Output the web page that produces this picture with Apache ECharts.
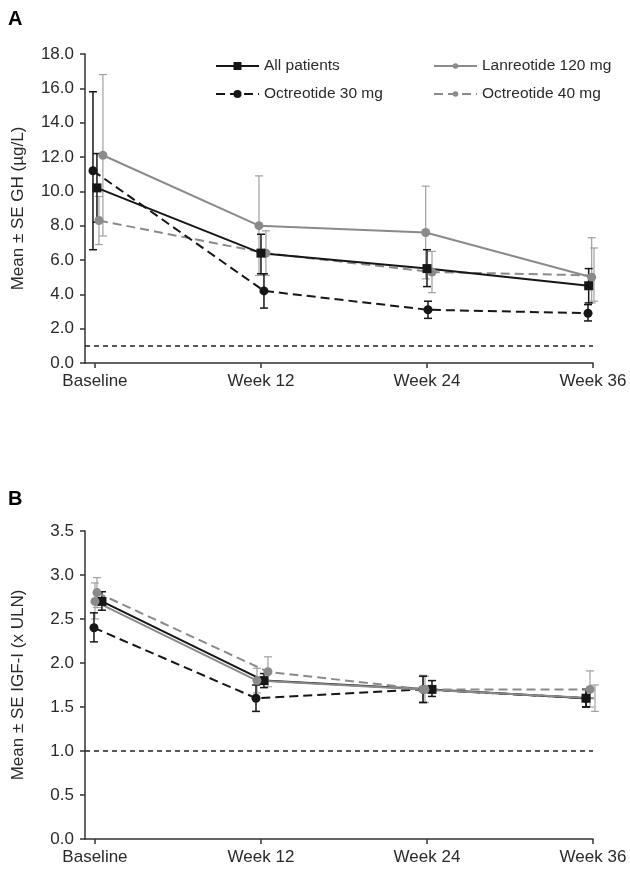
<!DOCTYPE html>
<html><head><meta charset="utf-8">
<script src="https://cdn.jsdelivr.net/npm/echarts@6/dist/echarts.min.js"></script>
<style>html,body{margin:0;padding:0;background:#fff}#c{width:630px;height:870px}</style>
</head><body><div id="c"></div>
<script>
const timepoints = ['Baseline', 'Week 12', 'Week 24', 'Week 36'];
const names = ['All patients', 'Lanreotide 120 mg', 'Octreotide 30 mg', 'Octreotide 40 mg'];

// Panel A: GH (µg/L) mean, lower SE, upper SE
const ghAll = [10.2, 6.4, 5.5, 4.5];
const ghAllLo = [8.2, 5.2, 4.45, 3.5];
const ghAllHi = [12.2, 7.5, 6.6, 5.5];
const ghLan = [12.1, 8.0, 7.6, 5.0];
const ghLanLo = [7.4, 5.1, 4.9, 3.5];
const ghLanHi = [16.8, 10.9, 10.3, 7.3];
const ghOct30 = [11.2, 4.2, 3.1, 2.9];
const ghOct30Lo = [6.6, 3.2, 2.6, 2.45];
const ghOct30Hi = [15.8, 5.2, 3.6, 3.4];
const ghOct40 = [8.3, 6.4, 5.3, 5.1];
const ghOct40Lo = [6.9, 5.1, 4.1, 3.6];
const ghOct40Hi = [9.7, 7.7, 6.5, 6.7];
const ghRef = 1.0;

// Panel B: IGF-I (x ULN)
const igfAll = [2.7, 1.8, 1.7, 1.6];
const igfAllLo = [2.6, 1.72, 1.62, 1.5];
const igfAllHi = [2.81, 1.88, 1.8, 1.7];
const igfLan = [2.7, 1.8, 1.7, 1.6];
const igfLanLo = [2.5, 1.66, 1.56, 1.45];
const igfLanHi = [2.91, 1.94, 1.86, 1.75];
const igfOct30 = [2.4, 1.6, 1.7, 1.6];
const igfOct30Lo = [2.24, 1.45, 1.55, 1.5];
const igfOct30Hi = [2.57, 1.75, 1.85, 1.7];
const igfOct40 = [2.8, 1.9, 1.7, 1.7];
const igfOct40Lo = [2.63, 1.73, 1.55, 1.5];
const igfOct40Hi = [2.97, 2.07, 1.85, 1.91];
const igfRef = 1.0;

// small horizontal dodge of each group around its timepoint (in timepoint units)
const dodgeA = {all: [0.012, 0, 0, -0.026], lan: [0.048, -0.012, -0.008, -0.008], oct30: [-0.012, 0.018, 0.006, -0.03], oct40: [0.024, 0.03, 0.03, 0.006]};
const dodgeB = {all: [0.042, 0.018, 0.03, -0.042], lan: [0, -0.024, -0.024, 0.012], oct30: [-0.006, -0.03, -0.024, -0.042], oct40: [0.012, 0.042, -0.012, -0.018]};

const BLACK = '#161616', GREY = '#8a8a8a', GREY_ERR = '#a0a0a0';
const styles = {
  all: {name: names[0], color: BLACK, type: 'solid', symbol: 'rect', size: 9, err: BLACK, errW: 1.5},
  lan: {name: names[1], color: GREY, type: 'solid', symbol: 'circle', size: 9, err: GREY_ERR, errW: 1.2},
  oct30: {name: names[2], color: BLACK, type: [9, 5], symbol: 'circle', size: 9, err: BLACK, errW: 1.5},
  oct40: {name: names[3], color: GREY, type: [9, 5], symbol: 'circle', size: 9, err: GREY_ERR, errW: 1.2}
};

function lineS(key, g, vals, dodge) {
  const s = styles[key];
  return {
    type: 'line', name: s.name, xAxisIndex: g, yAxisIndex: g,
    data: vals.map((v, i) => [i + dodge[i], v]),
    symbol: s.symbol, symbolSize: s.size, showSymbol: true,
    lineStyle: {color: s.color, width: 2, type: s.type},
    itemStyle: {color: s.color},
    z: 3, animation: false
  };
}
function errS(key, g, lo, hi, dodge) {
  const s = styles[key];
  return {
    type: 'custom', name: s.name + ' SE', xAxisIndex: g, yAxisIndex: g,
    data: lo.map((l, i) => [i + dodge[i], l, hi[i]]),
    encode: {x: 0, y: [1, 2]},
    z: 2, animation: false, silent: true,
    renderItem: function (params, api) {
      const x = api.value(0);
      const p1 = api.coord([x, api.value(1)]);
      const p2 = api.coord([x, api.value(2)]);
      const w = 4;
      const st = {stroke: s.err, lineWidth: s.errW};
      return {type: 'group', children: [
        {type: 'line', shape: {x1: p1[0], y1: p1[1], x2: p2[0], y2: p2[1]}, style: st},
        {type: 'line', shape: {x1: p1[0] - w, y1: p1[1], x2: p1[0] + w, y2: p1[1]}, style: st},
        {type: 'line', shape: {x1: p2[0] - w, y1: p2[1], x2: p2[0] + w, y2: p2[1]}, style: st}
      ]};
    }
  };
}
function refS(g, v) {
  return {
    type: 'line', name: 'ref' + g, xAxisIndex: g, yAxisIndex: g, data: [], silent: true, animation: false,
    markLine: {silent: true, symbol: 'none', label: {show: false}, animation: false,
      lineStyle: {color: '#222', width: 1.5, type: [5, 4]},
      data: [{yAxis: v}]}
  };
}

const TXT = '#2a2a2a';
const FONT = 'Liberation Sans, Arial, sans-serif';
function xAx(g) {
  return {
    gridIndex: g, type: 'value', min: -0.06, max: 3,
    axisLine: {show: true, onZero: false, lineStyle: {color: '#333', width: 1.5}},
    axisTick: {show: true, customValues: [0, 1, 2, 3], length: 5, lineStyle: {color: '#333', width: 1.5}},
    axisLabel: {customValues: [0, 1, 2, 3], formatter: v => timepoints[Math.round(v)], fontSize: 17, color: TXT, fontFamily: FONT, margin: 10},
    splitLine: {show: false}
  };
}
function yAx(g, max, interval, title) {
  return {
    gridIndex: g, type: 'value', min: 0, max: max, interval: interval,
    name: title, nameLocation: 'middle', nameGap: 58,
    nameTextStyle: {fontSize: 17, color: TXT, fontFamily: FONT},
    axisLine: {show: true, onZero: false, lineStyle: {color: '#333', width: 1.5}},
    axisTick: {show: true, length: 5, lineStyle: {color: '#333', width: 1.5}},
    axisLabel: {formatter: v => v.toFixed(1), fontSize: 17, color: TXT, fontFamily: FONT, margin: 11},
    splitLine: {show: false}
  };
}

const chart = echarts.init(document.getElementById('c'), null, {renderer: 'canvas'});
chart.setOption({
  backgroundColor: '#fff',
  animation: false,
  textStyle: {fontFamily: FONT},
  title: [
    {text: 'A', left: 3, top: 4, textStyle: {fontSize: 20, fontWeight: 'bold', color: '#000', fontFamily: FONT}},
    {text: 'B', left: 3, top: 484, textStyle: {fontSize: 20, fontWeight: 'bold', color: '#000', fontFamily: FONT}}
  ],
  legend: [
    {data: [names[0], names[2]], orient: 'vertical', left: 215, top: 58, padding: 0,
      itemWidth: 43, itemHeight: 10, itemGap: 12, selectedMode: false,
      textStyle: {fontSize: 15.5, color: TXT, fontFamily: FONT, lineHeight: 12}},
    {data: [names[1], names[3]], orient: 'vertical', left: 433, top: 58, padding: 0,
      itemWidth: 43, itemHeight: 7, itemGap: 12, selectedMode: false,
      textStyle: {fontSize: 15.5, color: TXT, fontFamily: FONT, lineHeight: 12}}
  ],
  grid: [
    {left: 85, right: 37, top: 54, height: 309},
    {left: 85, right: 37, top: 531, height: 308}
  ],
  xAxis: [xAx(0), xAx(1)],
  yAxis: [yAx(0, 18, 2, 'Mean \u00b1 SE GH (\u00b5g/L)'), yAx(1, 3.5, 0.5, 'Mean \u00b1 SE IGF-I (x ULN)')],
  series: [
    refS(0, ghRef),
    errS('lan', 0, ghLanLo, ghLanHi, dodgeA.lan),
    errS('oct40', 0, ghOct40Lo, ghOct40Hi, dodgeA.oct40),
    errS('oct30', 0, ghOct30Lo, ghOct30Hi, dodgeA.oct30),
    errS('all', 0, ghAllLo, ghAllHi, dodgeA.all),
    lineS('lan', 0, ghLan, dodgeA.lan),
    lineS('oct40', 0, ghOct40, dodgeA.oct40),
    lineS('oct30', 0, ghOct30, dodgeA.oct30),
    lineS('all', 0, ghAll, dodgeA.all),

    refS(1, igfRef),
    errS('lan', 1, igfLanLo, igfLanHi, dodgeB.lan),
    errS('oct40', 1, igfOct40Lo, igfOct40Hi, dodgeB.oct40),
    errS('oct30', 1, igfOct30Lo, igfOct30Hi, dodgeB.oct30),
    errS('all', 1, igfAllLo, igfAllHi, dodgeB.all),
    lineS('oct30', 1, igfOct30, dodgeB.oct30),
    lineS('all', 1, igfAll, dodgeB.all),
    lineS('oct40', 1, igfOct40, dodgeB.oct40),
    lineS('lan', 1, igfLan, dodgeB.lan)
  ]
});
</script></body></html>
